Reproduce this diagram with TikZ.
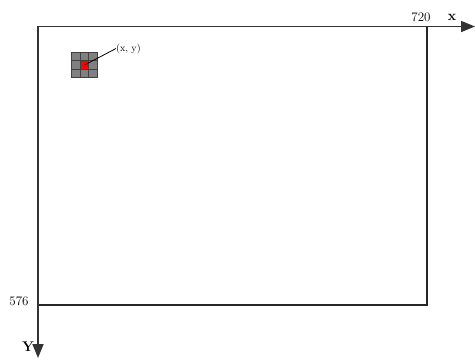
\documentclass[tikz,border=0pt]{standalone}
\usetikzlibrary{arrows.meta}
\begin{document}
\begin{tikzpicture}[x=1pt,y=-1pt,
  axis/.style={draw=black!80,line width=1.6pt,-{Triangle[length=14pt,width=11pt]}},
  frame/.style={draw=black!85,line width=1.5pt},
  cell/.style={draw=black!75,fill=black!50,line width=0.8pt,minimum size=8.5pt,inner sep=0pt,outer sep=0pt},
  lbl/.style={inner sep=0pt,font=\fontsize{13}{15}\selectfont}]
\useasboundingbox (0,0) rectangle (475,360);
\coordinate (o) at (38,26.5);
\coordinate (xe) at (475,26.5);
\coordinate (ye) at (38,358);
\draw[frame] (38,26.5) rectangle (427,305);
\draw[axis] (o) -- (xe);
\draw[axis] (o) -- (ye);
\node[lbl] (l720) at (421,17) {720};
\node[lbl,font=\bfseries\fontsize{14}{15}\selectfont] (lx) at (452,17) {x};
\node[lbl] (l576) at (19,301) {576};
\node[lbl,font=\bfseries\fontsize{14}{15}\selectfont] (ly) at (28,347) {Y};
\foreach \i in {0,1,2}{
  \foreach \j in {0,1,2}{
    \node[cell] (c\i\j) at (76+\i*8.5,56.5+\j*8.5) {};
  }
}
\node[cell,fill=red] (c11) at (84.5,65) {};
\node[inner sep=0pt,anchor=west,font=\fontsize{10}{12}\selectfont] (pt) at (116,48.5) {(x, y)};
\draw[line width=0.8pt] (c11.center) -- (pt.west);
\end{tikzpicture}
\end{document}
